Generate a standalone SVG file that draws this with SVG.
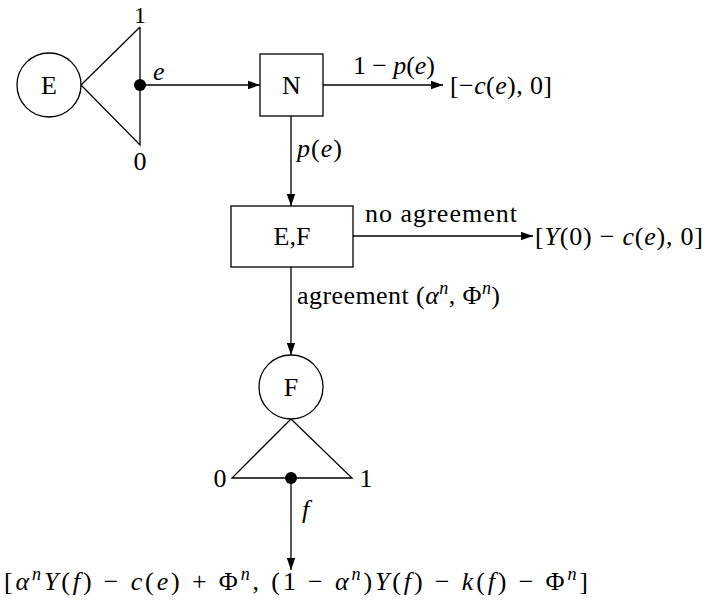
<svg xmlns="http://www.w3.org/2000/svg" width="707" height="600" viewBox="0 0 707 600">
<style>
text{font-family:"Liberation Serif","DejaVu Serif",serif;font-size:26px;fill:#000}
.i{font-style:italic}
.s{font-size:18px}
.shape{fill:#fff;stroke:#000;stroke-width:1.3}
.line{fill:none;stroke:#000;stroke-width:1.3}
</style>
<defs>
<marker id="arr" viewBox="0 0 10 10" refX="10" refY="5" markerWidth="12" markerHeight="12" markerUnits="userSpaceOnUse" orient="auto">
<path d="M0,1.5 L10,5 L0,8.5 Z" fill="#000"/>
</marker>
</defs>
<rect width="707" height="600" fill="#fff"/>
<g id="connectors">
<line class="line" x1="140" y1="85" x2="260" y2="85" marker-end="url(#arr)"/>
<line class="line" x1="323" y1="85" x2="443" y2="85" marker-end="url(#arr)"/>
<line class="line" x1="291" y1="116" x2="291" y2="206" marker-end="url(#arr)"/>
<line class="line" x1="353" y1="236" x2="533" y2="236" marker-end="url(#arr)"/>
<line class="line" x1="291" y1="267" x2="291" y2="355" marker-end="url(#arr)"/>
<line class="line" x1="291" y1="478" x2="291" y2="570" marker-end="url(#arr)"/>
<text x="353" y="74" textLength="82" lengthAdjust="spacing">1 − <tspan class="i">p</tspan>(<tspan class="i">e</tspan>)</text>
<text x="297" y="157" textLength="45" lengthAdjust="spacing"><tspan class="i">p</tspan>(<tspan class="i">e</tspan>)</text>
<text x="365" y="222" textLength="152" lengthAdjust="spacing">no agreement</text>
<text x="297" y="304" textLength="203" lengthAdjust="spacing">agreement (<tspan class="i">α</tspan><tspan class="s i" dy="-10">n</tspan><tspan dy="10">, Φ</tspan><tspan class="s i" dy="-10">n</tspan><tspan dy="10">)</tspan></text>
<text x="302" y="518" class="i">f</text>
<text x="153" y="80" class="i">e</text>
</g>
<g id="node-E">
<circle class="shape" cx="49" cy="85" r="32"/>
<text x="49" y="94" text-anchor="middle">E</text>
<polyline class="line" points="140,27 81,85 140,145 140,27"/>
<circle cx="140" cy="85" r="6" fill="#000"/>
<text x="140" y="23" text-anchor="middle" style="font-size:24px">1</text>
<text x="140" y="170" text-anchor="middle">0</text>
</g>
<g id="node-N">
<rect class="shape" x="260" y="54" width="63" height="62"/>
<text x="291.5" y="94" text-anchor="middle">N</text>
</g>
<g id="payoff-1">
<text x="450" y="94" textLength="102" lengthAdjust="spacing">[−<tspan class="i">c</tspan>(<tspan class="i">e</tspan>), 0]</text>
</g>
<g id="node-EF">
<rect class="shape" x="231" y="206" width="122" height="61"/>
<text x="292" y="245" text-anchor="middle">E,F</text>
</g>
<g id="payoff-2">
<text x="535" y="245" textLength="168" lengthAdjust="spacing">[<tspan class="i">Y</tspan>(0) − <tspan class="i">c</tspan>(<tspan class="i">e</tspan>), 0]</text>
</g>
<g id="node-F">
<circle class="shape" cx="291" cy="387" r="32"/>
<text x="291" y="396" text-anchor="middle">F</text>
<polyline class="line" points="291,419 232,478 352,478 291,419"/>
<circle cx="291" cy="478" r="6" fill="#000"/>
<text x="220" y="487" text-anchor="middle">0</text>
<text x="366" y="487" text-anchor="middle">1</text>
</g>
<g id="payoff-3">
<text x="4" y="590" textLength="584" lengthAdjust="spacing">[<tspan class="i">α</tspan><tspan class="s i" dy="-10">n</tspan><tspan class="i" dy="10">Y</tspan>(<tspan class="i">f</tspan>) − <tspan class="i">c</tspan>(<tspan class="i">e</tspan>) + Φ<tspan class="s i" dy="-10">n</tspan><tspan dy="10">, (1 − </tspan><tspan class="i">α</tspan><tspan class="s i" dy="-10">n</tspan><tspan dy="10">)</tspan><tspan class="i">Y</tspan>(<tspan class="i">f</tspan>) − <tspan class="i">k</tspan>(<tspan class="i">f</tspan>) − Φ<tspan class="s i" dy="-10">n</tspan><tspan dy="10">]</tspan></text>
</g>
</svg>
